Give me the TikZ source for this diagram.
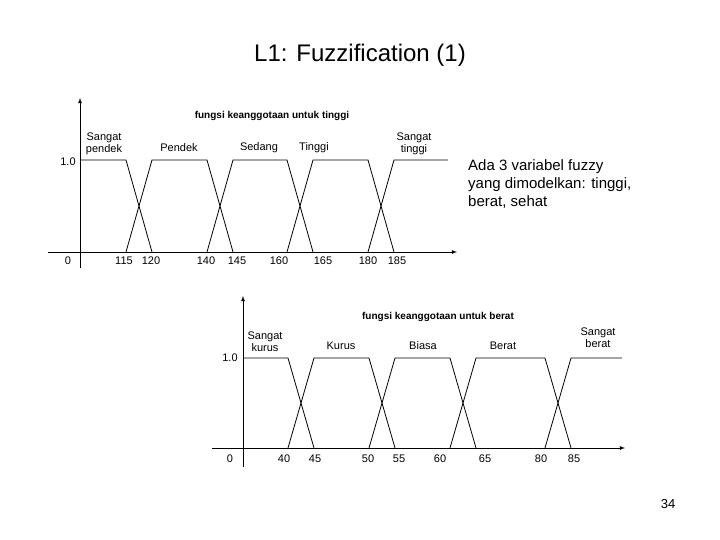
\documentclass[tikz,border=0pt]{standalone}
\usepackage{fontspec}
\setmainfont{Liberation Sans}
\begin{document}
\begin{tikzpicture}[x=1pt,y=-1pt,
  ln/.style={black,line width=0.8pt},
  ax/.style={black,line width=0.8pt,-latex},
  lbl/.style={font=\fontsize{11}{12}\selectfont,align=center,inner sep=0pt},
  ttl/.style={font=\fontsize{10}{11}\selectfont\bfseries,inner sep=0pt},
  tick/.style={font=\fontsize{11}{12}\selectfont,inner sep=0pt}]
\useasboundingbox (0,0) rectangle (720,540);
\node[font=\fontsize{24}{28}\selectfont] (title) at (360,55) {L1: Fuzzification (1)};
\node[font=\fontsize{15}{18}\selectfont,align=left,anchor=north west,inner sep=0pt] (desc) at (468,159) {Ada 3 variabel fuzzy\\yang dimodelkan: tinggi,\\berat, sehat};
\node[font=\fontsize{13}{15}\selectfont] (pg) at (668,504) {34};
% top chart
\coordinate (ya) at (80,268); \coordinate (yb) at (80,98);
\coordinate (xa) at (48,252); \coordinate (xb) at (457,252);
\draw[ax] (ya) -- (yb);
\draw[ax] (xa) -- (xb);
\draw[ln] (81,160) -- (126,160) -- (152,252);
\draw[ln] (126,252) -- (152,160) -- (207,160) -- (233,252);
\draw[ln] (207,252) -- (233,160) -- (287,160) -- (313,252);
\draw[ln] (287,252) -- (313,160) -- (368,160) -- (394,252);
\draw[ln] (368,252) -- (394,160) -- (448,160);
\node[ttl] (t1) at (272,116) {fungsi keanggotaan untuk tinggi};
\node[lbl] (a1) at (104,144) {Sangat\\pendek};
\node[lbl] (a2) at (179,148) {Pendek};
\node[lbl] (a3) at (259,148) {Sedang};
\node[lbl] (a4) at (314,148) {Tinggi};
\node[lbl] (a5) at (414,144) {Sangat\\tinggi};
\node[tick] (z1) at (68,261) {0};
\node[tick] (u1) at (68,162) {1.0};
\foreach \v/\xx in {115/124,120/151,140/206,145/237,160/279,165/323,180/368,185/397}
  \node[tick] at (\xx,261) {\v};
% bottom chart
\coordinate (yc) at (243,467); \coordinate (yd) at (243,296);
\coordinate (xc) at (212,448); \coordinate (xd) at (625,448);
\draw[ax] (yc) -- (yd);
\draw[ax] (xc) -- (xd);
\draw[ln] (244,358) -- (288,358) -- (314,448);
\draw[ln] (288,448) -- (314,358) -- (369,358) -- (395,448);
\draw[ln] (369,448) -- (395,358) -- (450,358) -- (476,448);
\draw[ln] (450,448) -- (476,358) -- (545,358) -- (571,448);
\draw[ln] (545,448) -- (571,358) -- (622,358);
\node[ttl] (t2) at (438,317) {fungsi keanggotaan untuk berat};
\node[lbl] (b1) at (265,342) {Sangat\\kurus};
\node[lbl] (b2) at (341,346) {Kurus};
\node[lbl] (b3) at (423,346) {Biasa};
\node[lbl] (b4) at (503,346) {Berat};
\node[lbl] (b5) at (598,338) {Sangat\\berat};
\node[tick] (z2) at (230,459) {0};
\node[tick] (u2) at (230,358) {1.0};
\foreach \v/\xx in {40/284,45/315,50/368,55/399,60/440,65/485,80/541,85/574}
  \node[tick] at (\xx,459) {\v};
\end{tikzpicture}
\end{document}
